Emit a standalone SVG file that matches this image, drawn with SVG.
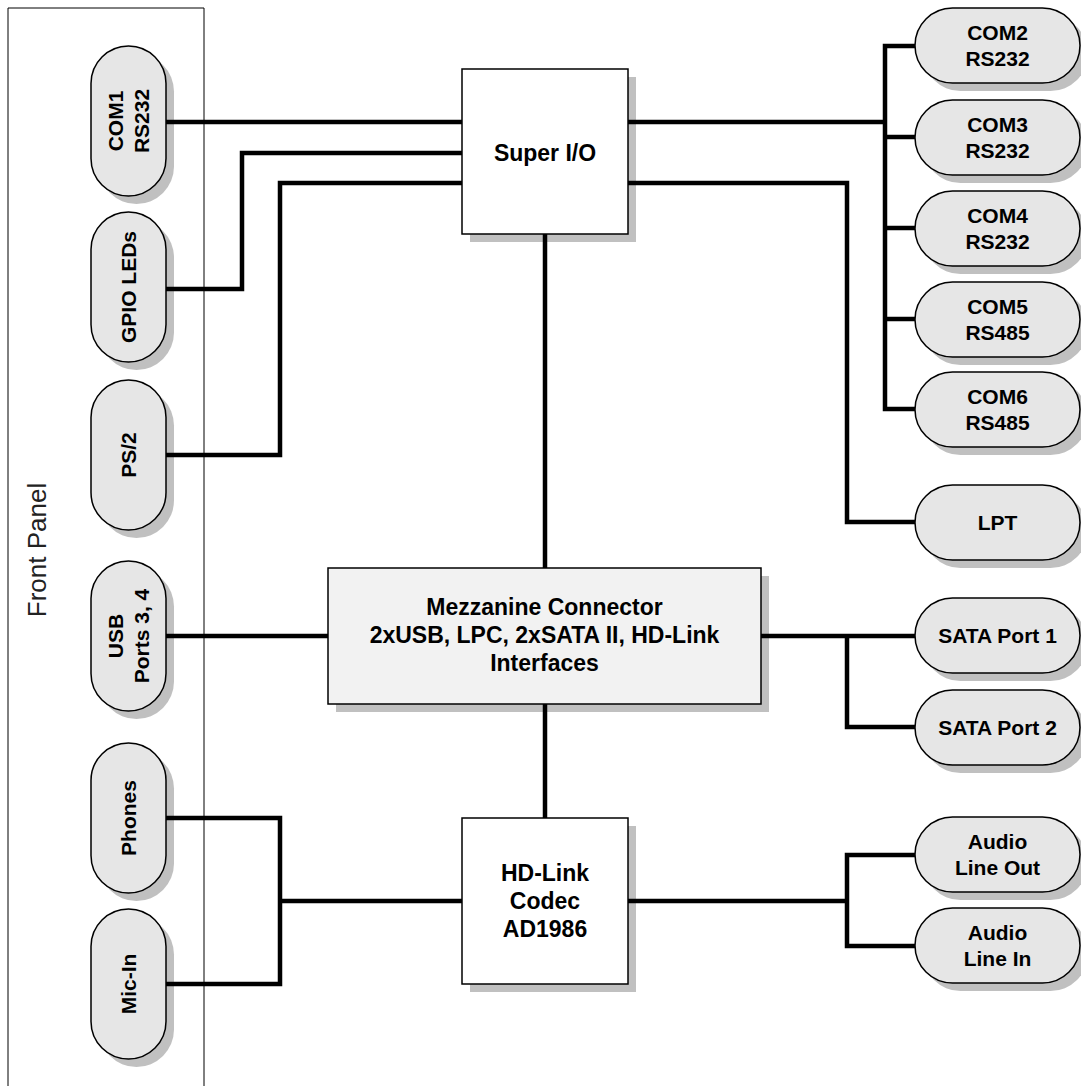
<svg xmlns="http://www.w3.org/2000/svg" width="1081" height="1086" viewBox="0 0 1081 1086">
<style>
.shadow{fill:#c0c0c0;stroke:none}
.pill{fill:#e6e6e6;stroke:#000;stroke-width:1.5}
.box{fill:#fff;stroke:#000;stroke-width:1.5}
.mbox{fill:#f2f2f2;stroke:#000;stroke-width:1.5}
.t{font-family:"Liberation Sans",Arial,Helvetica,sans-serif;font-weight:bold;font-size:21px;fill:#000;text-anchor:middle}
.tb{font-family:"Liberation Sans",Arial,Helvetica,sans-serif;font-weight:bold;font-size:23px;fill:#000;text-anchor:middle}
.fp{font-family:"Liberation Sans",Arial,Helvetica,sans-serif;font-size:26px;fill:#222;text-anchor:middle}
.wire{fill:none;stroke:#000;stroke-width:4.5;stroke-linejoin:miter;stroke-linecap:butt}
</style>
<rect width="1081" height="1086" fill="#fff"/>
<g id="front-panel">
<path d="M8,1090 V8 H204 V1090" fill="none" stroke="#000" stroke-width="1"/>
<text class="fp" transform="translate(46,550) rotate(-90)">Front Panel</text>
</g>
<g id="com1">
<rect class="shadow" x="99" y="54" width="75" height="150" rx="37.5"/>
<rect class="pill" x="91" y="46" width="75" height="150" rx="37.5"/>
<text class="t" transform="translate(128.5,121) rotate(-90)"><tspan x="0" y="-5.5">COM1</tspan><tspan x="0" y="20.5">RS232</tspan></text>
</g>
<g id="gpio">
<rect class="shadow" x="99" y="220" width="75" height="150" rx="37.5"/>
<rect class="pill" x="91" y="212" width="75" height="150" rx="37.5"/>
<text class="t" transform="translate(128.5,287) rotate(-90)" y="7.5">GPIO LEDs</text>
</g>
<g id="ps2">
<rect class="shadow" x="99" y="388" width="75" height="150" rx="37.5"/>
<rect class="pill" x="91" y="380" width="75" height="150" rx="37.5"/>
<text class="t" transform="translate(128.5,455) rotate(-90)" y="7.5">PS/2</text>
</g>
<g id="usb">
<rect class="shadow" x="99" y="569" width="75" height="150" rx="37.5"/>
<rect class="pill" x="91" y="561" width="75" height="150" rx="37.5"/>
<text class="t" transform="translate(128.5,636) rotate(-90)"><tspan x="0" y="-5.5">USB</tspan><tspan x="0" y="20.5">Ports 3, 4</tspan></text>
</g>
<g id="phones">
<rect class="shadow" x="99" y="751" width="75" height="150" rx="37.5"/>
<rect class="pill" x="91" y="743" width="75" height="150" rx="37.5"/>
<text class="t" transform="translate(128.5,818) rotate(-90)" y="7.5">Phones</text>
</g>
<g id="mic-in">
<rect class="shadow" x="99" y="917" width="75" height="150" rx="37.5"/>
<rect class="pill" x="91" y="909" width="75" height="150" rx="37.5"/>
<text class="t" transform="translate(128.5,984) rotate(-90)" y="7.5">Mic-In</text>
</g>
<g id="super-io">
<rect class="shadow" x="470" y="77" width="166" height="165"/>
<rect class="box" x="462" y="69" width="166" height="165"/>
<text class="tb" x="545" y="161">Super I/O</text>
</g>
<g id="mezzanine">
<rect class="shadow" x="336" y="576" width="433" height="136"/>
<rect class="mbox" x="328" y="568" width="433" height="136"/>
<text class="tb" x="544.5"><tspan x="544.5" y="615">Mezzanine Connector</tspan><tspan x="544.5" y="643">2xUSB, LPC, 2xSATA II, HD-Link</tspan><tspan x="544.5" y="671">Interfaces</tspan></text>
</g>
<g id="hd-link">
<rect class="shadow" x="470" y="826" width="166" height="166"/>
<rect class="box" x="462" y="818" width="166" height="166"/>
<text class="tb"><tspan x="545" y="881">HD-Link</tspan><tspan x="545" y="909">Codec</tspan><tspan x="545" y="937">AD1986</tspan></text>
</g>
<g id="com2">
<rect class="shadow" x="923" y="16" width="165" height="75" rx="37.5"/>
<rect class="pill" x="915" y="8" width="165" height="75" rx="37.5"/>
<text class="t"><tspan x="997.5" y="40">COM2</tspan><tspan x="997.5" y="66">RS232</tspan></text>
</g>
<g id="com3">
<rect class="shadow" x="923" y="108" width="165" height="75" rx="37.5"/>
<rect class="pill" x="915" y="100" width="165" height="75" rx="37.5"/>
<text class="t"><tspan x="997.5" y="132">COM3</tspan><tspan x="997.5" y="158">RS232</tspan></text>
</g>
<g id="com4">
<rect class="shadow" x="923" y="199" width="165" height="75" rx="37.5"/>
<rect class="pill" x="915" y="191" width="165" height="75" rx="37.5"/>
<text class="t"><tspan x="997.5" y="223">COM4</tspan><tspan x="997.5" y="249">RS232</tspan></text>
</g>
<g id="com5">
<rect class="shadow" x="923" y="290" width="165" height="75" rx="37.5"/>
<rect class="pill" x="915" y="282" width="165" height="75" rx="37.5"/>
<text class="t"><tspan x="997.5" y="314">COM5</tspan><tspan x="997.5" y="340">RS485</tspan></text>
</g>
<g id="com6">
<rect class="shadow" x="923" y="380" width="165" height="75" rx="37.5"/>
<rect class="pill" x="915" y="372" width="165" height="75" rx="37.5"/>
<text class="t"><tspan x="997.5" y="404">COM6</tspan><tspan x="997.5" y="430">RS485</tspan></text>
</g>
<g id="lpt">
<rect class="shadow" x="923" y="493" width="165" height="75" rx="37.5"/>
<rect class="pill" x="915" y="485" width="165" height="75" rx="37.5"/>
<text class="t" x="997.5" y="530">LPT</text>
</g>
<g id="sata1">
<rect class="shadow" x="923" y="606" width="165" height="75" rx="37.5"/>
<rect class="pill" x="915" y="598" width="165" height="75" rx="37.5"/>
<text class="t" x="997.5" y="643">SATA Port 1</text>
</g>
<g id="sata2">
<rect class="shadow" x="923" y="698" width="165" height="75" rx="37.5"/>
<rect class="pill" x="915" y="690" width="165" height="75" rx="37.5"/>
<text class="t" x="997.5" y="735">SATA Port 2</text>
</g>
<g id="audio-out">
<rect class="shadow" x="923" y="825" width="165" height="75" rx="37.5"/>
<rect class="pill" x="915" y="817" width="165" height="75" rx="37.5"/>
<text class="t"><tspan x="997.5" y="849">Audio</tspan><tspan x="997.5" y="875">Line Out</tspan></text>
</g>
<g id="audio-in">
<rect class="shadow" x="923" y="916" width="165" height="75" rx="37.5"/>
<rect class="pill" x="915" y="908" width="165" height="75" rx="37.5"/>
<text class="t"><tspan x="997.5" y="940">Audio</tspan><tspan x="997.5" y="966">Line In</tspan></text>
</g>
<g id="connectors" class="wire">
<path d="M166,122 H462"/>
<path d="M166,289 H242 V153 H462"/>
<path d="M166,455 H280 V183 H462"/>
<path d="M166,636 H328"/>
<path d="M166,818 H280 V984 H166"/>
<path d="M280,901 H462"/>
<path d="M545,234 V568"/>
<path d="M545,704 V818"/>
<path d="M628,122 H885"/>
<path d="M915,46 H885 V409 H915"/>
<path d="M885,137 H915"/>
<path d="M885,228 H915"/>
<path d="M885,319 H915"/>
<path d="M628,183 H847 V522 H915"/>
<path d="M761,636 H915"/>
<path d="M847,636 V727 H915"/>
<path d="M628,901 H847"/>
<path d="M915,855 H847 V946 H915"/>
</g>
</svg>
